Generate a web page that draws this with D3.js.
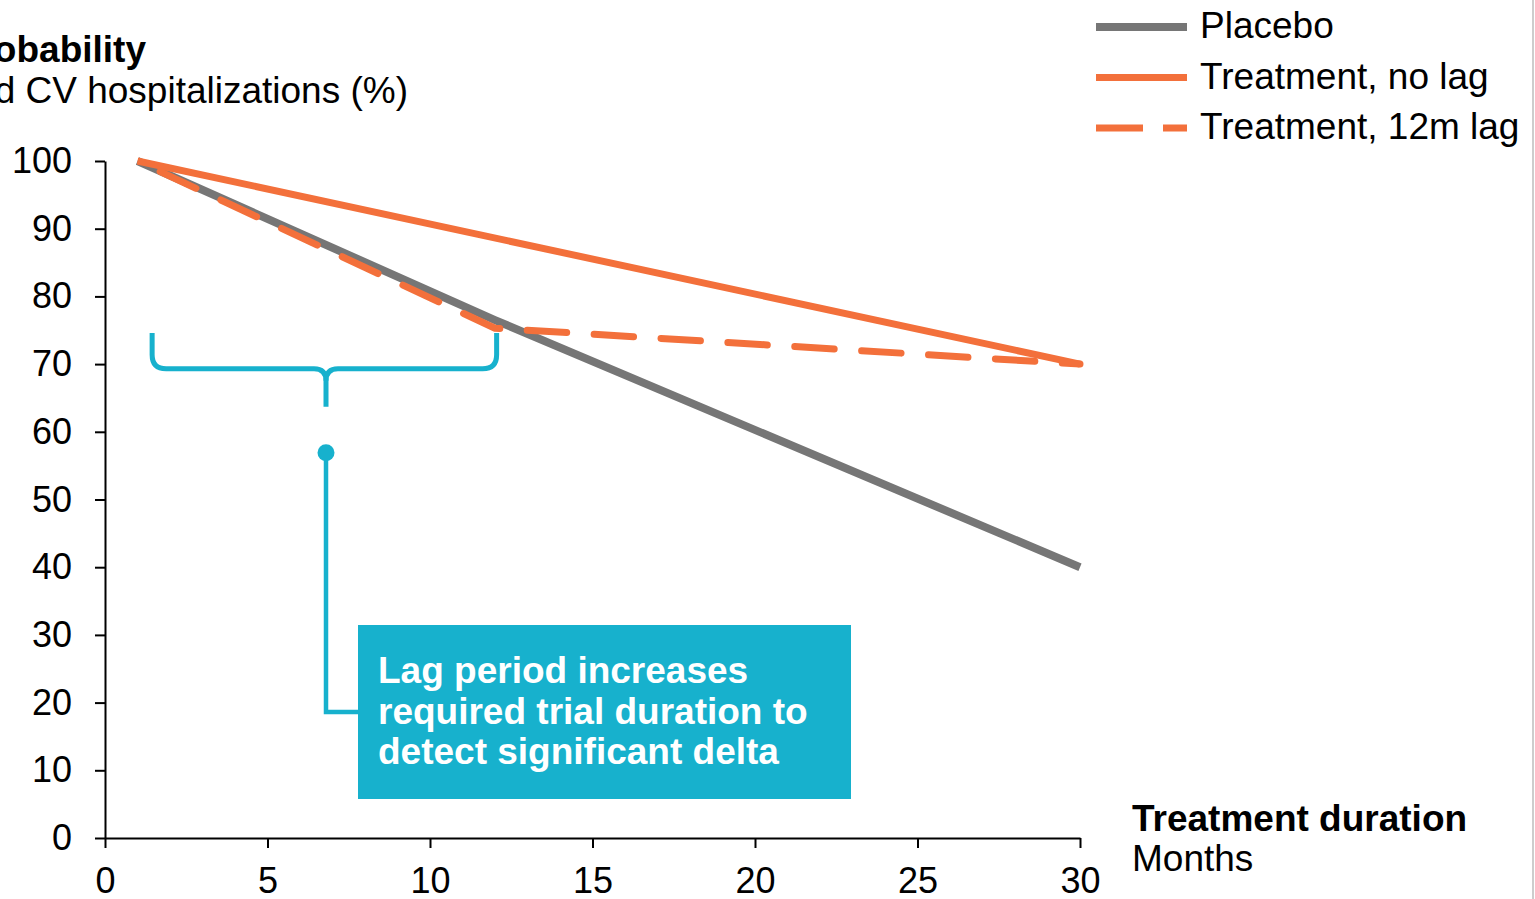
<!DOCTYPE html>
<html>
<head>
<meta charset="utf-8">
<script src="https://cdn.jsdelivr.net/npm/d3@7/dist/d3.min.js"></script>
<style>
  html, body { margin: 0; padding: 0; background: #fff; overflow: hidden; }
  svg { display: block; }
  text { font-family: "Liberation Sans", Arial, Helvetica, sans-serif; }
</style>
</head>
<body>
<svg id="chart" width="1535" height="899"></svg>
<script>
// Survival curves (months, % event-free)
const seriesNames = ["Placebo", "Treatment, no lag", "Treatment, 12m lag"];
const placebo     = [[1, 100], [12, 76.5], [30, 40]];
const noLag       = [[1, 100], [30, 70]];
const lag12m      = [[1, 100], [12, 75.3], [30, 70]];

const xTicks = [0, 5, 10, 15, 20, 25, 30];
const yTicks = [0, 10, 20, 30, 40, 50, 60, 70, 80, 90, 100];

const yTitle = ["Event-free survival probability", "Free of death and CV hospitalizations (%)"];
const xTitle = ["Treatment duration", "Months"];
const calloutLines = ["Lag period increases", "required trial duration to", "detect significant delta"];

const GRAY = "#767676", ORANGE = "#F3703B", TEAL = "#17B1CD";
const FS = 37;

const svg = d3.select("#chart");
const x = d3.scaleLinear().domain([0, 30]).range([105, 1080]);
const y = d3.scaleLinear().domain([0, 100]).range([838, 161]);

// right-hand frame edge
svg.append("line").attr("x1", 1533).attr("x2", 1533).attr("y1", 0).attr("y2", 899)
  .attr("stroke", "#bdbdbd").attr("stroke-width", 1.5);

// axes
const gx = svg.append("g").attr("transform", `translate(0,${y(0)})`)
  .call(d3.axisBottom(x).tickValues(xTicks).tickSize(10).tickSizeOuter(0).tickPadding(19));
const gy = svg.append("g").attr("transform", `translate(${x(0)},0)`)
  .call(d3.axisLeft(y).tickValues(yTicks).tickSize(10).tickSizeOuter(0).tickPadding(23));
[gx, gy].forEach(g => {
  g.select(".domain").attr("stroke", "#000").attr("stroke-width", 2);
  g.selectAll(".tick line").attr("stroke", "#000").attr("stroke-width", 2);
  g.selectAll(".tick text").attr("font-size", 36).attr("fill", "#000")
    .attr("font-family", "'Liberation Sans', Arial, sans-serif");
});

// curves
const line = d3.line().x(d => x(d[0])).y(d => y(d[1]));
svg.append("path").datum(placebo).attr("d", line)
  .attr("fill", "none").attr("stroke", GRAY).attr("stroke-width", 8).attr("stroke-linejoin", "round");
svg.append("path").datum(lag12m).attr("d", line)
  .attr("fill", "none").attr("stroke", ORANGE).attr("stroke-width", 7)
  .attr("stroke-linecap", "round").attr("stroke-linejoin", "round")
  .attr("stroke-dasharray", "39.5,27.5").attr("stroke-dashoffset", -25);
svg.append("path").datum(noLag).attr("d", line)
  .attr("fill", "none").attr("stroke", ORANGE).attr("stroke-width", 7).attr("stroke-linejoin", "round");

// legend
const legend = svg.append("g");
const legStyles = [
  { color: GRAY, width: 8, dash: null },
  { color: ORANGE, width: 7, dash: null },
  { color: ORANGE, width: 7, dash: "47,20" }
];
seriesNames.forEach((name, i) => {
  const cy = 27 + i * 50.5;
  legend.append("line").attr("x1", 1096).attr("x2", 1187).attr("y1", cy).attr("y2", cy)
    .attr("stroke", legStyles[i].color).attr("stroke-width", legStyles[i].width)
    .attr("stroke-dasharray", legStyles[i].dash);
  legend.append("text").attr("x", 1200).attr("y", cy + 11).attr("font-size", FS).attr("fill", "#000").text(name);
});

// axis titles
svg.append("text").attr("x", 146).attr("y", 62).attr("text-anchor", "end")
  .attr("font-size", FS).attr("font-weight", "bold").text(yTitle[0]);
svg.append("text").attr("x", 408).attr("y", 103).attr("text-anchor", "end")
  .attr("font-size", FS).text(yTitle[1]);
svg.append("text").attr("x", 1132).attr("y", 831)
  .attr("font-size", FS).attr("font-weight", "bold").text(xTitle[0]);
svg.append("text").attr("x", 1132).attr("y", 871)
  .attr("font-size", FS).text(xTitle[1]);

// brace over the lag window
const braceL = 1.45, braceR = 12.05, braceMid = 6.8;
const bTop = y(74.6), bBar = y(69.3), bTip = y(63.7);
const r = 14;
const brace = svg.append("g").attr("fill", "none").attr("stroke", TEAL).attr("stroke-width", 5);
brace.append("path").attr("d",
  `M${x(braceL)},${bTop} L${x(braceL)},${bBar - r} Q${x(braceL)},${bBar} ${x(braceL) + r},${bBar}` +
  ` L${x(braceMid) - 12},${bBar} Q${x(braceMid)},${bBar} ${x(braceMid)},${bBar + 12} L${x(braceMid)},${bTip}`);
brace.append("path").attr("d",
  `M${x(braceR)},${bTop} L${x(braceR)},${bBar - r} Q${x(braceR)},${bBar} ${x(braceR) - r},${bBar}` +
  ` L${x(braceMid) + 12},${bBar} Q${x(braceMid)},${bBar} ${x(braceMid)},${bBar + 12}`);

// callout connector and box
const dotY = y(56.9), elbowY = 712;
const box = { x0: 358, x1: 851, y0: 625, y1: 799 };
svg.append("path")
  .attr("d", `M${x(braceMid)},${dotY} L${x(braceMid)},${elbowY} L${box.x0},${elbowY}`)
  .attr("fill", "none").attr("stroke", TEAL).attr("stroke-width", 4.5);
svg.append("circle").attr("cx", x(braceMid)).attr("cy", dotY).attr("r", 8.5).attr("fill", TEAL);
svg.append("rect").attr("x", box.x0).attr("y", box.y0)
  .attr("width", box.x1 - box.x0).attr("height", box.y1 - box.y0).attr("fill", TEAL);
calloutLines.forEach((t, i) => {
  svg.append("text").attr("x", 378).attr("y", 683 + i * 40.5)
    .attr("font-size", FS).attr("font-weight", "bold").attr("fill", "#fff").text(t);
});
</script>
</body>
</html>
